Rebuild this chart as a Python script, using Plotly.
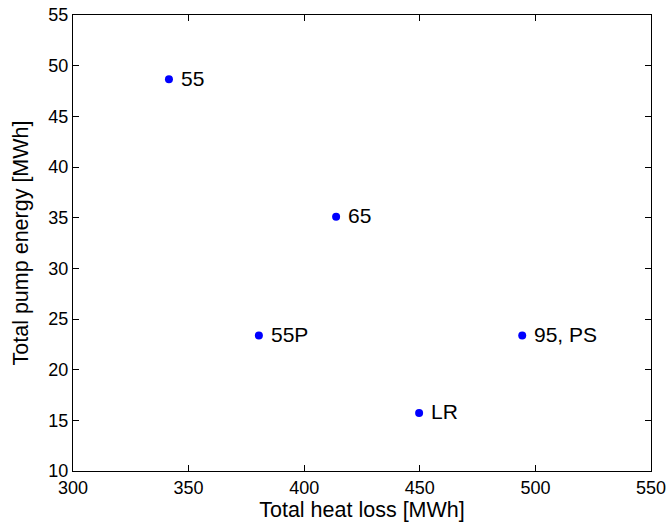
import plotly.graph_objects as go

heat_loss = [341.5, 413.8, 380.4, 494.3, 449.7]
pump_energy = [48.65, 35.08, 23.37, 23.37, 15.73]
labels = ["55", "65", "55P", "95, PS", "LR"]

x_ticks = [300, 350, 400, 450, 500, 550]
y_ticks = [10, 15, 20, 25, 30, 35, 40, 45, 50, 55]

FONT = "Liberation Sans, Arial, Helvetica, sans-serif"

fig = go.Figure()
fig.add_trace(go.Scatter(
    x=heat_loss, y=pump_energy, mode="markers",
    marker=dict(color="#0000ff", size=8, line=dict(width=0)),
    showlegend=False, hoverinfo="skip",
))
for xv, yv, t in zip(heat_loss, pump_energy, labels):
    fig.add_annotation(x=xv, y=yv, text=t, showarrow=False, xanchor="left",
                       yanchor="middle", xshift=10, yshift=1,
                       font=dict(family=FONT, size=21, color="black"))

axis_common = dict(
    showline=True, linecolor="black", linewidth=1.3, mirror="ticks",
    ticks="inside", ticklen=6, tickwidth=1, tickcolor="black",
    showgrid=False, zeroline=False, automargin=False,
    ticklabeloverflow="allow",
    tickfont=dict(family=FONT, size=18, color="black"),
)
fig.update_xaxes(range=[300, 550], tickvals=x_ticks, ticktext=[str(v) for v in x_ticks],
                 title=dict(text="Total heat loss [MWh]", font=dict(family=FONT, size=21.5, color="black"), standoff=1),
                 **axis_common)
fig.update_yaxes(range=[10, 55], tickvals=y_ticks, ticktext=[str(v) for v in y_ticks],
                 title=dict(text="Total pump energy [MWh]", font=dict(family=FONT, size=21.5, color="black"), standoff=13),
                 **axis_common)
fig.update_layout(
    width=670, height=530,
    margin=dict(l=73, r=19, t=15, b=59),
    plot_bgcolor="white", paper_bgcolor="white",
)
fig.write_html("out.html", config={"displayModeBar": False},
               post_script="document.body.style.margin='0';document.body.style.overflow='hidden';")
